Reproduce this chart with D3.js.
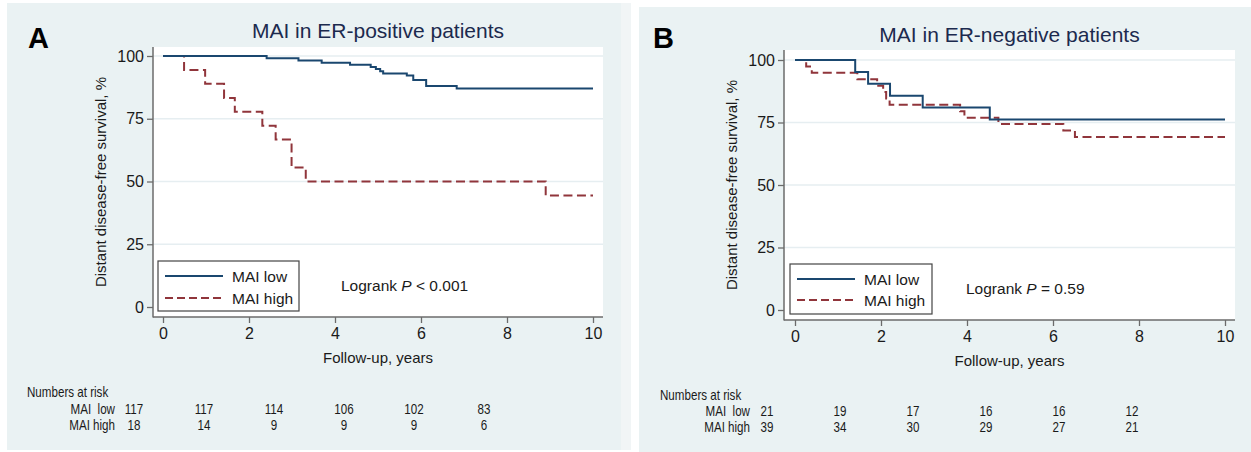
<!DOCTYPE html>
<html>
<head>
<meta charset="utf-8">
<script src="https://cdn.jsdelivr.net/npm/d3@7"></script>
<style>
  body { margin: 0; background: #fff; }
  svg text { font-family: "Liberation Sans", Arial, sans-serif; }
</style>
</head>
<body>
<svg id="chart" width="1251" height="452"></svg>
<script>
// ---- data ----
const timeTicks = [0, 2, 4, 6, 8, 10];
const survTicks = [0, 25, 50, 75, 100];
const seriesNames = ['MAI low', 'MAI high'];
const riskRowLabels = ['MAI  low', 'MAI high'];

// ER-positive, Kaplan-Meier steps (time in years, survival %)
const posLowTime = [0, 2.41, 3.15, 3.69, 4.35, 4.83, 4.95, 5.05, 5.12, 5.67, 5.82, 6.12, 6.83, 10];
const posLowSurv = [100, 99.1, 98.2, 97.3, 96.5, 95.6, 94.8, 93.9, 93.0, 92.2, 90.4, 88.0, 87.1, 87.1];
const posHighTime = [0, 0.49, 0.98, 1.42, 1.67, 2.31, 2.62, 2.99, 3.32, 8.9, 10];
const posHighSurv = [100, 94.4, 88.9, 83.3, 77.8, 72.2, 66.7, 55.6, 50.0, 44.4, 44.4];
const posRiskLow = [117, 117, 114, 106, 102, 83];
const posRiskHigh = [18, 14, 9, 9, 9, 6];

// ER-negative
const negLowTime = [0, 1.40, 1.70, 2.21, 2.97, 4.53, 10];
const negLowSurv = [100, 95.2, 90.5, 85.7, 81.0, 76.2, 76.2];
const negHighTime = [0, 0.26, 0.39, 1.45, 1.91, 2.05, 2.12, 2.20, 3.84, 3.94, 4.73, 6.24, 6.51, 10];
const negHighSurv = [100, 97.4, 94.9, 92.3, 89.7, 87.2, 84.6, 82.1, 79.5, 76.9, 74.4, 71.8, 69.2, 69.2];
const negRiskLow = [21, 19, 17, 16, 16, 12];
const negRiskHigh = [39, 34, 30, 29, 27, 21];

// ---- styling ----
const BG = '#eaf2f3';
const GRID = '#e6eef1';
const AXIS = '#6b6b6b';
const BLUE = '#1a476f';
const RED = '#90353b';
const TITLE = '#1c2a4e';

const svg = d3.select('#chart');

const zip = (ts, ss) => ts.map((t, i) => ({t, s: ss[i]}));

function drawPanel(cfg) {
    const g = svg.append('g');
    const p = cfg.plot;

    g.append('rect').attr('x', cfg.bg.x).attr('y', cfg.bg.y)
        .attr('width', cfg.bg.w).attr('height', cfg.bg.h).attr('fill', BG);
    g.append('rect').attr('x', p.left).attr('y', p.top)
        .attr('width', p.right - p.left).attr('height', p.bottom - p.top).attr('fill', '#fff');

    const x = d3.scaleLinear().domain([0, 10]).range(cfg.xRange);
    const y = d3.scaleLinear().domain([0, 100]).range(cfg.yRange);

    // grid
    g.selectAll('line.grid')
        .data(survTicks.filter(v => v > 0))
        .enter().append('line')
        .attr('x1', p.left).attr('x2', p.right)
        .attr('y1', d => y(d)).attr('y2', d => y(d))
        .attr('stroke', GRID).attr('stroke-width', 1.5);

    // curves
    const line = d3.line().curve(d3.curveStepAfter)
        .x(d => x(d.t)).y(d => y(d.s));
    g.append('path').datum(zip(cfg.highTime, cfg.highSurv))
        .attr('fill', 'none').attr('stroke', RED).attr('stroke-width', 2)
        .attr('stroke-dasharray', '9,4.5').attr('d', line);
    g.append('path').datum(zip(cfg.lowTime, cfg.lowSurv))
        .attr('fill', 'none').attr('stroke', BLUE).attr('stroke-width', 2)
        .attr('d', line);

    // axes
    const ya = g.append('g').attr('transform', `translate(${p.left},0)`)
        .call(d3.axisLeft(y).tickValues(survTicks).tickSize(6).tickSizeOuter(0).tickPadding(3));
    const xa = g.append('g').attr('transform', `translate(0,${p.bottom})`)
        .call(d3.axisBottom(x).tickValues(timeTicks).tickSize(6).tickSizeOuter(0).tickPadding(5));
    [ya, xa].forEach(a => {
        a.select('.domain').remove();
        a.selectAll('line').attr('stroke', AXIS).attr('stroke-width', 1.3);
        a.selectAll('text').attr('font-size', 16).attr('fill', '#1a1a1a')
            .attr('font-family', '"Liberation Sans", Arial, sans-serif');
    });
    g.append('line').attr('x1', p.left).attr('x2', p.left)
        .attr('y1', p.top).attr('y2', p.bottom + 0.5)
        .attr('stroke', AXIS).attr('stroke-width', 1.5);
    g.append('line').attr('x1', p.left).attr('x2', p.right)
        .attr('y1', p.bottom).attr('y2', p.bottom)
        .attr('stroke', AXIS).attr('stroke-width', 1.5);

    // texts
    g.append('text').attr('x', cfg.letter.x).attr('y', cfg.letter.y)
        .attr('font-size', 29).attr('font-weight', 'bold').attr('fill', '#000').text(cfg.letterText);
    g.append('text').attr('x', (p.left + p.right) / 2).attr('y', cfg.titleY)
        .attr('text-anchor', 'middle').attr('font-size', 21).attr('fill', TITLE).text(cfg.title);
    g.append('text')
        .attr('transform', `translate(${cfg.yLabelX},${(p.top + p.bottom) / 2}) rotate(-90)`)
        .attr('text-anchor', 'middle').attr('font-size', 15).attr('fill', '#1a1a1a')
        .text('Distant disease-free survival, %');
    g.append('text').attr('x', (p.left + p.right) / 2).attr('y', cfg.xLabelY)
        .attr('text-anchor', 'middle').attr('font-size', 15).attr('fill', '#1a1a1a')
        .text('Follow-up, years');

    // legend
    const lg = cfg.legend;
    g.append('rect').attr('x', lg.x).attr('y', lg.y).attr('width', lg.w).attr('height', lg.h)
        .attr('fill', '#fff').attr('stroke', '#444').attr('stroke-width', 1.2);
    seriesNames.forEach((name, i) => {
        const ly = lg.rows[i];
        g.append('line').attr('x1', lg.x1).attr('x2', lg.x2).attr('y1', ly).attr('y2', ly)
            .attr('stroke', i === 0 ? BLUE : RED).attr('stroke-width', 2)
            .attr('stroke-dasharray', i === 0 ? null : '8,4');
        g.append('text').attr('x', lg.tx).attr('y', ly + 6)
            .attr('font-size', 15.5).attr('fill', '#1a1a1a').text(name);
    });

    const lr = g.append('text').attr('x', cfg.logrank.x).attr('y', cfg.logrank.y)
        .attr('font-size', 15.5).attr('fill', '#1a1a1a');
    lr.append('tspan').text('Logrank ');
    lr.append('tspan').attr('font-style', 'italic').text('P');
    lr.append('tspan').text(cfg.logrank.rest);

    // numbers at risk (condensed type, as in the original)
    const rk = cfg.risk;
    const rx = d3.scaleLinear().domain([0, 10]).range(rk.cols);
    const narrow = (sel, tx, ty) => sel.attr('transform', `translate(${tx},${ty}) scale(0.8,1)`)
        .attr('font-size', 14.5).attr('fill', '#1a1a1a').style('white-space', 'pre');
    narrow(g.append('text'), rk.headerX, rk.headerY).text('Numbers at risk');
    [cfg.riskLow, cfg.riskHigh].forEach((row, i) => {
        narrow(g.append('text'), rk.labelRight, rk.rows[i])
            .attr('text-anchor', 'end').text(riskRowLabels[i]);
        row.forEach((n, j) => {
            narrow(g.append('text'), rx(timeTicks[j]), rk.rows[i])
                .attr('text-anchor', 'middle').text(n);
        });
    });
}

// thin lighter strip at the right of panel A
svg.append('rect').attr('x', 621).attr('y', 3).attr('width', 10).attr('height', 447).attr('fill', '#f1f5f6');

drawPanel({
    letterText: 'A',
    title: 'MAI in ER-positive patients',
    bg: {x: 7, y: 3, w: 614, h: 447},
    plot: {left: 153, top: 47, right: 603, bottom: 317},
    xRange: [163, 593], yRange: [307, 56],
    letter: {x: 28, y: 48},
    titleY: 38, yLabelX: 106, xLabelY: 363,
    legend: {x: 158, y: 261, w: 141, h: 50, rows: [276, 298], x1: 165, x2: 223, tx: 232},
    logrank: {x: 341, y: 291, rest: ' < 0.001'},
    lowTime: posLowTime, lowSurv: posLowSurv, highTime: posHighTime, highSurv: posHighSurv,
    riskLow: posRiskLow, riskHigh: posRiskHigh,
    risk: {headerX: 27, headerY: 397, labelRight: 115, rows: [414, 430], cols: [134, 484]}
});

drawPanel({
    letterText: 'B',
    title: 'MAI in ER-negative patients',
    bg: {x: 639, y: 7, w: 612, h: 445},
    plot: {left: 784, top: 50, right: 1235, bottom: 320},
    xRange: [795, 1225], yRange: [310, 60],
    letter: {x: 653, y: 48},
    titleY: 42, yLabelX: 737, xLabelY: 366,
    legend: {x: 790, y: 264, w: 142, h: 50, rows: [279, 300], x1: 797, x2: 855, tx: 864},
    logrank: {x: 966, y: 294, rest: ' = 0.59'},
    lowTime: negLowTime, lowSurv: negLowSurv, highTime: negHighTime, highSurv: negHighSurv,
    riskLow: negRiskLow, riskHigh: negRiskHigh,
    risk: {headerX: 660, headerY: 400, labelRight: 750, rows: [416, 432], cols: [767, 1132]}
});
</script>
</body>
</html>
